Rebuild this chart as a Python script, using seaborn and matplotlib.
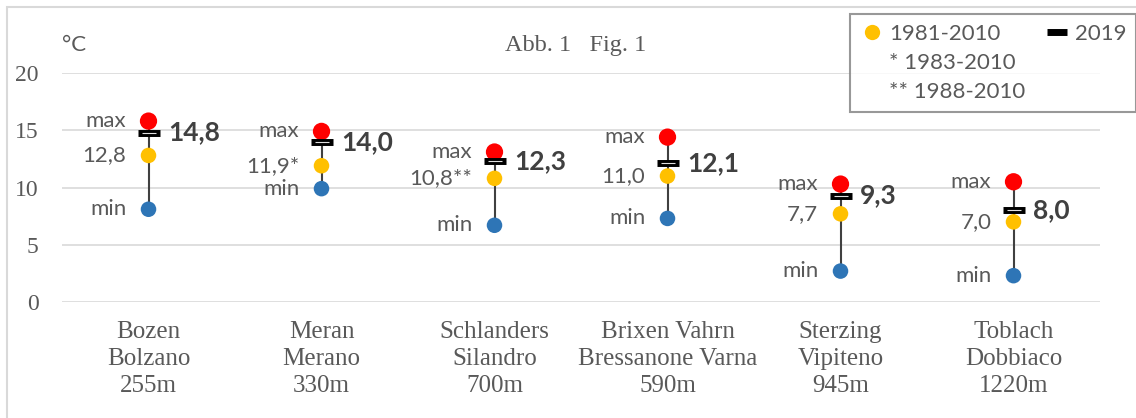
import matplotlib.pyplot as plt
import pandas as pd
import seaborn as sns
from matplotlib.lines import Line2D
from matplotlib.patches import Rectangle

# Data
stations = [
    "Bozen\nBolzano\n255m",
    "Meran\nMerano\n330m",
    "Schlanders\nSilandro\n700m",
    "Brixen Vahrn\nBressanone Varna\n590m",
    "Sterzing\nVipiteno\n945m",
    "Toblach\nDobbiaco\n1220m",
]
t_max = [15.8, 14.9, 13.1, 14.4, 10.3, 10.5]
t_min = [8.1, 9.9, 6.7, 7.3, 2.7, 2.3]
t_mean = [12.8, 11.9, 10.8, 11.0, 7.7, 7.0]
mean_labels = ["12,8", "11,9*", "10,8**", "11,0", "7,7", "7,0"]
t_2019 = [14.8, 14.0, 12.3, 12.1, 9.3, 8.0]
labels_2019 = ["14,8", "14,0", "12,3", "12,1", "9,3", "8,0"]

df = pd.DataFrame(
    {"station": stations, "max": t_max, "min": t_min, "mean": t_mean, "y2019": t_2019}
)

sns.set_theme(style="white")
plt.rcParams["font.family"] = ["Lato", "DejaVu Sans"]

RED = "#FF0000"
YELLOW = "#FFC000"
BLUE = "#2E75B6"
GREY_TXT = "#595959"
DARK_TXT = "#404040"
SERIF = ["Liberation Serif", "DejaVu Serif"]

fig = plt.figure(figsize=(11.36, 4.18), dpi=100)
ax = fig.add_axes([62 / 1136, 1 - 302 / 418, 1038 / 1136, (302 - 73) / 418])

ax.vlines(df["station"], df["min"], df["max"], color="#404040", lw=1.5, zorder=2)
sns.scatterplot(data=df, x="station", y="max", color=RED, s=155, edgecolor="none", ax=ax, zorder=3)
sns.scatterplot(data=df, x="station", y="mean", color=YELLOW, s=125, edgecolor="none", ax=ax, zorder=3)
sns.scatterplot(data=df, x="station", y="min", color=BLUE, s=125, edgecolor="none", ax=ax, zorder=3)
sns.scatterplot(data=df, x="station", y="y2019", marker="_", s=16 ** 2, linewidth=5,
                color="black", ax=ax, zorder=4)
sns.scatterplot(data=df, x="station", y="y2019", marker="_", s=10 ** 2, linewidth=0.8,
                color="#e0e0e0", ax=ax, zorder=5)

for st, hi, lo, mu, ml, v, vl in zip(stations, t_max, t_min, t_mean, mean_labels, t_2019, labels_2019):
    kw = dict(textcoords="offset points", ha="right", va="center", fontsize=16, color=GREY_TXT)
    ax.annotate("max", (st, hi), xytext=(-16, 0), **kw)
    ax.annotate("min", (st, lo), xytext=(-16, 0), **kw)
    ax.annotate(ml, (st, mu), xytext=(-16, 0), **kw)
    ax.annotate(vl, (st, v), xytext=(14, 0), textcoords="offset points", ha="left", va="center",
                fontsize=19, fontweight="bold", color=DARK_TXT)

ax.set_xlim(-0.5, 5.5)
ax.set_ylim(0, 20)
ax.set_yticks([0, 5, 10, 15, 20])
ax.set_xlabel("")
ax.set_ylabel("")
ax.grid(axis="y", color="#d9d9d9", lw=1.2)
ax.set_axisbelow(True)
for s in ax.spines.values():
    s.set_visible(False)
ax.tick_params(axis="both", length=0, labelcolor=GREY_TXT)
ax.tick_params(axis="y", pad=17)
ax.tick_params(axis="x", pad=14)
for lab in ax.get_yticklabels():
    lab.set_fontfamily(SERIF)
    lab.set_fontsize(17)
for lab in ax.get_xticklabels():
    lab.set_fontfamily(SERIF)
    lab.set_fontsize(18)
    lab.set_linespacing(1.28)

fig.text(62 / 1136, 1 - 45 / 418, "°C", fontsize=16, color=GREY_TXT, ha="left", va="center")
fig.text(576 / 1136, 1 - 45 / 418, "Abb. 1   Fig. 1", fontsize=17.5, color=GREY_TXT,
         ha="center", va="center", family=SERIF)

blank = Line2D([], [], linestyle="none")
handles = [
    Line2D([], [], marker="o", linestyle="none", color=YELLOW, markersize=11, markeredgewidth=0),
    blank,
    blank,
    Line2D([], [], marker="_", linestyle="none", color="black", markersize=14, markeredgewidth=5),
    blank,
    blank,
]
labels = ["1981-2010", "* 1983-2010", "** 1988-2010", "2019", "", ""]
leg = fig.legend(handles, labels, ncol=2, loc="upper right", bbox_to_anchor=(1.0, 1 - 14 / 418),
                 bbox_transform=fig.transFigure, borderaxespad=0, fontsize=16, frameon=True,
                 fancybox=False, edgecolor="#7f7f7f", handlelength=1.0, handletextpad=0.3,
                 columnspacing=0.9, labelspacing=0.4, borderpad=0.45)
leg.get_frame().set_linewidth(1.5)
for t in leg.get_texts():
    t.set_color(GREY_TXT)

fig.add_artist(Rectangle((7 / 1136, -0.1), 2, 1.1 - 7 / 418, transform=fig.transFigure,
                         fill=False, edgecolor="#d9d9d9", lw=1.5, zorder=0))

fig.savefig("out.png", dpi=100)
